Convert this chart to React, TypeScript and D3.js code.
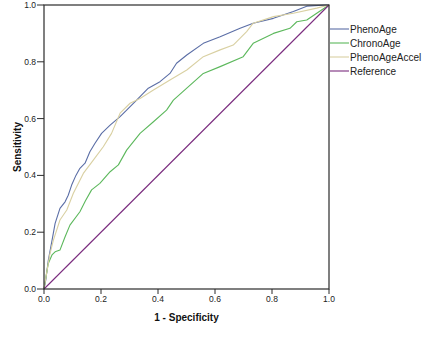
import * as d3 from "d3";

type Pt = [number, number];

const seriesNames = ["PhenoAge", "ChronoAge", "PhenoAgeAccel", "Reference"];
const seriesColors = ["#5b6ea6", "#5cb85c", "#d9d0a2", "#7b2d7f"];

const phenoAge: Pt[] = [
  [0, 0], [0.006, 0.03], [0.015, 0.1], [0.028, 0.17], [0.039, 0.231], [0.056, 0.284],
  [0.074, 0.307], [0.085, 0.33], [0.097, 0.366], [0.112, 0.4], [0.126, 0.425], [0.144, 0.443],
  [0.161, 0.483], [0.179, 0.513], [0.202, 0.548], [0.232, 0.577], [0.267, 0.607], [0.29, 0.63],
  [0.325, 0.665], [0.366, 0.707], [0.407, 0.73], [0.442, 0.759], [0.465, 0.795], [0.501, 0.824],
  [0.559, 0.865], [0.618, 0.888], [0.688, 0.918], [0.734, 0.936], [0.805, 0.953], [0.875, 0.977],
  [0.922, 0.996], [0.99, 1], [1, 1],
];

const chronoAge: Pt[] = [
  [0, 0], [0.008, 0.05], [0.015, 0.09], [0.028, 0.12], [0.039, 0.131], [0.056, 0.137],
  [0.074, 0.184], [0.091, 0.225], [0.126, 0.272], [0.145, 0.31], [0.167, 0.349], [0.196, 0.372],
  [0.232, 0.413], [0.261, 0.437], [0.29, 0.489], [0.337, 0.548], [0.384, 0.589], [0.43, 0.63],
  [0.454, 0.665], [0.501, 0.707], [0.559, 0.759], [0.618, 0.783], [0.699, 0.818], [0.734, 0.865],
  [0.805, 0.9], [0.863, 0.918], [0.887, 0.941], [0.922, 0.947], [0.957, 0.971], [1, 1],
];

const phenoAgeAccel: Pt[] = [
  [0, 0], [0.01, 0.06], [0.02, 0.12], [0.033, 0.172], [0.056, 0.243], [0.08, 0.278],
  [0.103, 0.337], [0.138, 0.407], [0.173, 0.454], [0.208, 0.501], [0.237, 0.548], [0.267, 0.619],
  [0.302, 0.654], [0.337, 0.671], [0.384, 0.701], [0.442, 0.736], [0.501, 0.771], [0.559, 0.818],
  [0.618, 0.842], [0.664, 0.859], [0.711, 0.906], [0.734, 0.936], [0.805, 0.959], [0.875, 0.971],
  [0.957, 0.989], [1, 1],
];

const reference: Pt[] = [[0, 0], [1, 1]];

const allSeries = [phenoAge, chronoAge, phenoAgeAccel, reference];
const tickValues = [0, 0.2, 0.4, 0.6, 0.8, 1.0];

const width = 440;
const height = 352;
const plot = { left: 44, right: 329, top: 5, bottom: 289 };
const font = "'Liberation Sans', Arial, sans-serif";

export default function App() {
  const x = d3.scaleLinear().domain([0, 1]).range([plot.left, plot.right]);
  const y = d3.scaleLinear().domain([0, 1]).range([plot.bottom, plot.top]);
  const line = d3
    .line<Pt>()
    .x((d) => x(d[0]))
    .y((d) => y(d[1]));
  const axisColor = "#2b2b2b";

  return (
    <svg
      width={width}
      height={height}
      style={{ position: "absolute", left: 0, top: 0, background: "#fff" }}
      fontFamily={font}
    >
      <rect x={0} y={0} width={width} height={height} fill="#fff" />
      {allSeries.map((s, i) => (
        <path
          key={seriesNames[i]}
          d={line(s) ?? ""}
          fill="none"
          stroke={seriesColors[i]}
          strokeWidth={1.1}
          strokeLinejoin="round"
        />
      ))}
      <rect
        x={plot.left}
        y={plot.top}
        width={plot.right - plot.left}
        height={plot.bottom - plot.top}
        fill="none"
        stroke={axisColor}
        strokeWidth={1.2}
      />
      {tickValues.map((t) => (
        <g key={`y-${t}`}>
          <line x1={plot.left - 7} x2={plot.left} y1={y(t)} y2={y(t)} stroke={axisColor} strokeWidth={1} />
          <text x={plot.left - 8} y={y(t) + 3} textAnchor="end" fontSize={8.5} fill="#222">
            {t.toFixed(1)}
          </text>
        </g>
      ))}
      {tickValues.map((t) => (
        <g key={`x-${t}`}>
          <line x1={x(t)} x2={x(t)} y1={plot.bottom} y2={plot.bottom + 5} stroke={axisColor} strokeWidth={1} />
          <text x={x(t)} y={plot.bottom + 13} textAnchor="middle" fontSize={8.5} fill="#222">
            {t.toFixed(1)}
          </text>
        </g>
      ))}
      <text x={(plot.left + plot.right) / 2} y={321} textAnchor="middle" fontSize={10} fontWeight="bold" fill="#111">
        1 - Specificity
      </text>
      <text
        transform={`translate(21, ${(plot.top + plot.bottom) / 2}) rotate(-90)`}
        textAnchor="middle"
        fontSize={10}
        fontWeight="bold"
        fill="#111"
      >
        Sensitivity
      </text>
      {seriesNames.map((name, i) => (
        <g key={`legend-${name}`} transform={`translate(330, ${29 + i * 14})`}>
          <line x1={0} x2={19} y1={0} y2={0} stroke={seriesColors[i]} strokeWidth={1.1} />
          <text x={20} y={3.5} fontSize={10} fill="#222">
            {name}
          </text>
        </g>
      ))}
    </svg>
  );
}
